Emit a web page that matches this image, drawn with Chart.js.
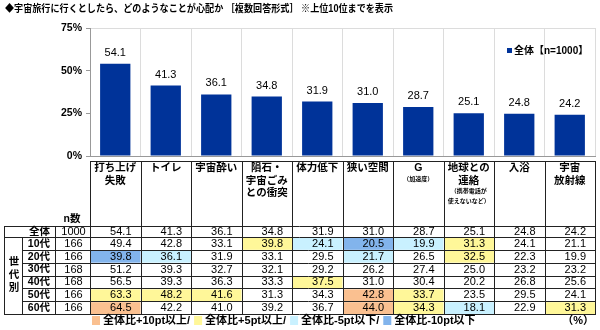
<!DOCTYPE html>
<html>
<head>
<meta charset="utf-8">
<title>宇宙旅行の心配事</title>
<script src="https://cdn.jsdelivr.net/npm/chart.js"></script>
<style>
  body { margin: 0; background: #fff; }
</style>
</head>
<body>
<canvas id="myChart" width="600" height="330"></canvas>
<script>
  const title = '◆宇宙旅行に行くとしたら、どのようなことが心配か ［複数回答形式］ ※上位10位までを表示';
  const categories = ['打ち上げ失敗', 'トイレ', '宇宙酔い', '隕石・宇宙ごみとの衝突', '体力低下', '狭い空間', 'G（加速度）', '地球との連絡（携帯電話が使えないなど）', '入浴', '宇宙放射線'];
  const headerLines = [['打ち上げ', '失敗'], ['トイレ'], ['宇宙酔い'], ['隕石・', '宇宙ごみ', 'との衝突'], ['体力低下'], ['狭い空間'], ['G'], ['地球との', '連絡'], ['入浴'], ['宇宙', '放射線']];
  const headerNotes = [[], [], [], [], [], [], ['（加速度）'], ['（携帯電話が', '使えないなど）'], [], []];
  const seriesLabel = '全体【n=1000】';
  const totalLabel = '全体';
  const totalN = 1000;
  const totalValues = [54.1, 41.3, 36.1, 34.8, 31.9, 31.0, 28.7, 25.1, 24.8, 24.2];
  const groupLabel = '世代別';
  const ageGroups = ['10代', '20代', '30代', '40代', '50代', '60代'];
  const ageN = [166, 166, 168, 168, 166, 166];
  const ageValues = [
    [49.4, 42.8, 33.1, 39.8, 24.1, 20.5, 19.9, 31.3, 24.1, 21.1],
    [39.8, 36.1, 31.9, 33.1, 29.5, 21.7, 26.5, 32.5, 22.3, 19.9],
    [51.2, 39.3, 32.7, 32.1, 29.2, 26.2, 27.4, 25.0, 23.2, 23.2],
    [56.5, 39.3, 36.3, 33.3, 37.5, 31.0, 30.4, 20.2, 26.8, 25.6],
    [63.3, 48.2, 41.6, 31.3, 34.3, 42.8, 33.7, 23.5, 29.5, 24.1],
    [64.5, 42.2, 41.0, 39.2, 36.7, 44.0, 34.3, 18.1, 22.9, 31.3]
  ];
  const yMax = 75;
  const yStep = 25;
  const legendItems = ['全体比+10pt以上/', '全体比+5pt以上/', '全体比-5pt以下/', '全体比-10pt以下'];
  const unitLabel = '（%）';

  const FONT = '"Liberation Sans", "Noto Sans CJK JP", sans-serif';
  const BAR = '#003399';
  const HL = ['#FAC090', '#FFF799', '#C9F1FF', '#82B4EC'];

  // pick the highlight colour by difference to the total (+10 / +5 / -5 / -10)
  function highlight(v, t) {
    const d = Math.round((v - t) * 10) / 10;
    if (d >= 10) return HL[0];
    if (d >= 5) return HL[1];
    if (d <= -10) return HL[3];
    if (d <= -5) return HL[2];
    return null;
  }

  const tablePlugin = {
    id: 'surveyTable',
    afterDraw(chart) {
      const ctx = chart.ctx;
      const x = chart.scales.x;
      const n = categories.length;
      const colW = x.width / n;
      const colL = i => x.getPixelForValue(i) - colW / 2;
      const right = x.right;

      const headTop = 161, totTop = 226, totBot = 237, bottom = 314;
      const rowH = (bottom - totBot) / ageGroups.length;
      const c0 = 4, c1 = 22, c2 = 55, c3 = x.left;

      ctx.save();

      // title
      ctx.fillStyle = '#000';
      ctx.font = 'bold 10px ' + FONT;
      ctx.textBaseline = 'middle';
      ctx.textAlign = 'left';
      ctx.fillText(title, 5, 9, 388);

      // bar value labels
      const meta = chart.getDatasetMeta(0);
      ctx.font = '11px ' + FONT;
      ctx.textAlign = 'center';
      meta.data.forEach((bar, i) => {
        ctx.fillText(totalValues[i].toFixed(1), bar.x, bar.y - 11);
      });

      // series legend inside plot
      ctx.fillStyle = BAR;
      ctx.fillRect(507, 48, 5, 5);
      ctx.fillStyle = '#000';
      ctx.font = 'bold 10px ' + FONT;
      ctx.textAlign = 'left';
      ctx.fillText(seriesLabel, 514, 51);

      // cell fills
      ageValues.forEach((row, r) => {
        row.forEach((v, i) => {
          const col = highlight(v, totalValues[i]);
          if (col) {
            ctx.fillStyle = col;
            ctx.fillRect(colL(i) + 1, totBot + r * rowH + 1, colW - 1, rowH - 1);
          }
        });
      });

      // grid lines
      ctx.strokeStyle = '#222';
      ctx.lineWidth = 1;
      const h = (y, a, b) => { ctx.beginPath(); ctx.moveTo(a, Math.round(y) + 0.5); ctx.lineTo(b, Math.round(y) + 0.5); ctx.stroke(); };
      const v = (xx, a, b) => { ctx.beginPath(); ctx.moveTo(Math.round(xx) + 0.5, a); ctx.lineTo(Math.round(xx) + 0.5, b); ctx.stroke(); };
      h(headTop, c3, right);
      h(totTop, c0, right);
      h(totBot, c0, right);
      for (let r = 1; r < ageGroups.length; r++) h(totBot + r * rowH, c1, right);
      h(bottom, c0, right);
      v(c0, totTop, bottom + 1);
      v(c1, totBot, bottom + 1);
      v(c2, totTop, bottom + 1);
      for (let i = 0; i <= n; i++) v(colL(i), headTop, bottom + 1);

      // header texts
      ctx.fillStyle = '#000';
      ctx.textAlign = 'center';
      headerLines.forEach((lines, i) => {
        const cx = x.getPixelForValue(i);
        ctx.font = 'bold 10.5px ' + FONT;
        lines.forEach((t, k) => ctx.fillText(t, cx, 168.5 + k * 12.5));
        ctx.font = 'bold 6px ' + FONT;
        headerNotes[i].forEach((t, k) => ctx.fillText(t, cx, 168.5 + lines.length * 12.5 - 2 + k * 9.5));
      });
      ctx.font = 'bold 10.5px ' + FONT;
      ctx.fillText('n数', 72, 219);

      // total row
      const totY = (totTop + totBot) / 2 + 0.5;
      ctx.textAlign = 'right';
      ctx.fillText(totalLabel, 50, totY);
      ctx.textAlign = 'center';
      ctx.font = '11px ' + FONT;
      ctx.fillText(String(totalN), (c2 + c3) / 2 + 1, totY);
      ctx.textAlign = 'right';
      totalValues.forEach((val, i) => ctx.fillText(val.toFixed(1), colL(i + 1) - 9, totY));

      // age rows
      ageGroups.forEach((g, r) => {
        const y = totBot + (r + 0.5) * rowH + 0.5;
        ctx.font = 'bold 10.5px ' + FONT;
        ctx.textAlign = 'right';
        ctx.fillText(g, 50, y);
        ctx.font = '11px ' + FONT;
        ctx.textAlign = 'center';
        ctx.fillText(String(ageN[r]), (c2 + c3) / 2 + 1, y);
        ctx.textAlign = 'right';
        ageValues[r].forEach((val, i) => ctx.fillText(val.toFixed(1), colL(i + 1) - 9, y));
      });

      // vertical group label
      ctx.font = 'bold 10.5px ' + FONT;
      ctx.textAlign = 'center';
      [...groupLabel].forEach((ch, k) => ctx.fillText(ch, (c0 + c1) / 2 + 1, 262 + k * 13));

      // bottom legend
      let lx = 92;
      ctx.textAlign = 'left';
      ctx.font = 'bold 11px ' + FONT;
      legendItems.forEach((t, k) => {
        ctx.fillStyle = HL[k];
        ctx.fillRect(lx, 316, 8, 9);
        ctx.fillStyle = '#000';
        ctx.fillText(t, lx + 11, 321);
        lx += 11 + ctx.measureText(t).width + 4;
      });
      ctx.textAlign = 'right';
      ctx.fillText(unitLabel, 594, 321);

      ctx.restore();
    }
  };

  const ctx = document.getElementById('myChart').getContext('2d');
  const myChart = new Chart(ctx, {
    type: 'bar',
    data: {
      labels: categories,
      datasets: [{
        label: seriesLabel,
        data: totalValues,
        backgroundColor: BAR,
        borderWidth: 0,
        barPercentage: 0.6,
        categoryPercentage: 1
      }]
    },
    options: {
      responsive: false,
      animation: false,
      layout: { padding: { top: 28, bottom: 174, left: 0, right: 5 } },
      plugins: {
        legend: { display: false },
        tooltip: { enabled: false }
      },
      scales: {
        x: {
          grid: { offset: true, color: '#dcdcdc', drawTicks: false },
          border: { color: '#999' },
          ticks: { display: false },
          afterFit: s => { s.height = 0; }
        },
        y: {
          min: 0,
          max: yMax,
          ticks: {
            stepSize: yStep,
            padding: 4,
            color: '#000',
            font: { family: FONT, size: 10.5, weight: 'bold' },
            callback: val => val + '%'
          },
          grid: {
            tickLength: 4,
            tickColor: '#999',
            color: c => (c.tick && c.tick.value === yMax) ? '#dcdcdc' : 'rgba(0,0,0,0)'
          },
          border: { color: '#999' },
          afterFit: s => { s.width = 90; }
        }
      }
    },
    plugins: [tablePlugin]
  });
</script>
</body>
</html>
